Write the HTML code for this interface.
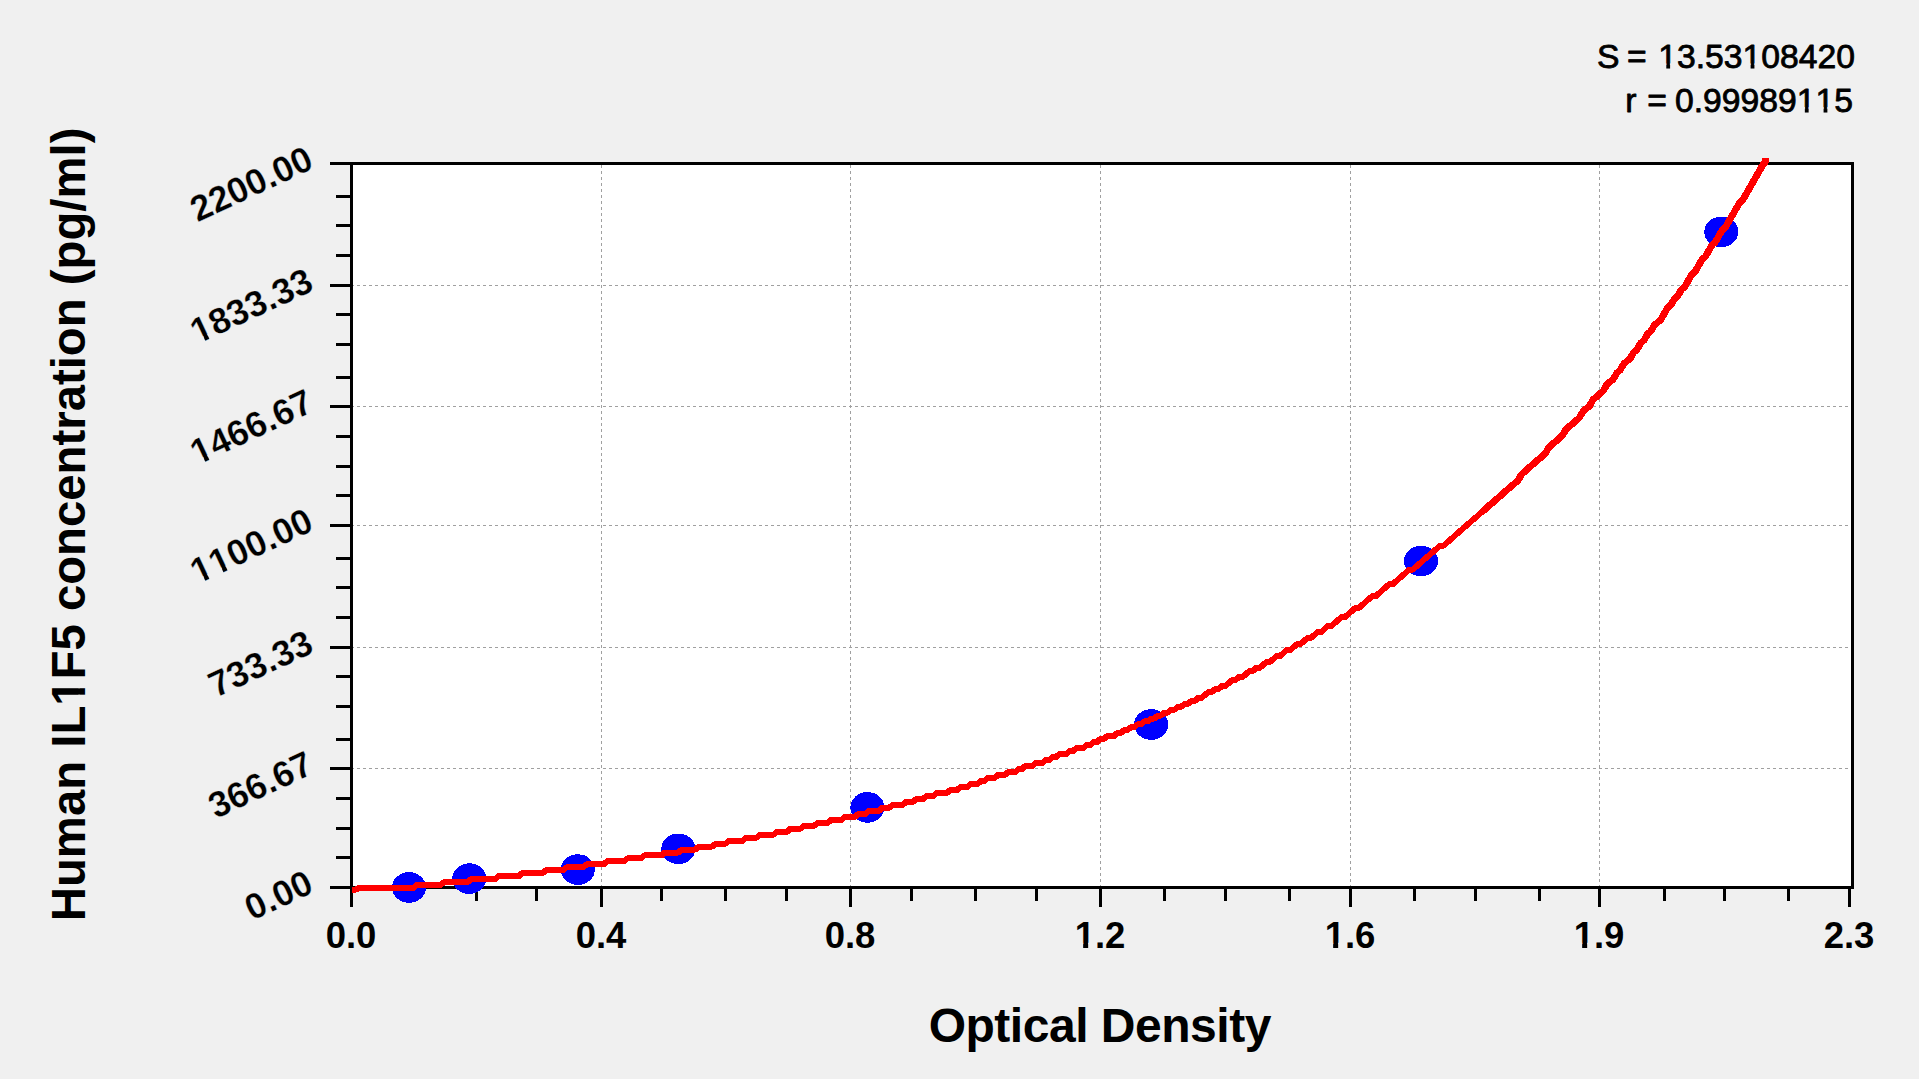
<!DOCTYPE html><html><head><meta charset="utf-8"><title>Standard curve</title>
<style>html,body{margin:0;padding:0;background:#f0f0f0;overflow:hidden}svg{display:block}text{font-family:"Liberation Sans",sans-serif;fill:#000;font-kerning:none;font-variant-ligatures:none}</style></head><body>
<svg width="1919" height="1079" viewBox="0 0 1919 1079">
<rect x="0" y="0" width="1919" height="1079" fill="#f0f0f0"/>
<rect x="353" y="165" width="1498" height="721" fill="#fff"/>
<g shape-rendering="crispEdges" stroke="#a0a0a0" stroke-width="1" stroke-dasharray="3 3" fill="none">
<line x1="351" y1="285.5" x2="1849" y2="285.5"/>
<line x1="351" y1="406.5" x2="1849" y2="406.5"/>
<line x1="351" y1="525.5" x2="1849" y2="525.5"/>
<line x1="351" y1="647.5" x2="1849" y2="647.5"/>
<line x1="351" y1="768.5" x2="1849" y2="768.5"/>
<line x1="601.5" y1="165" x2="601.5" y2="886"/>
<line x1="850.5" y1="165" x2="850.5" y2="886"/>
<line x1="1100.5" y1="165" x2="1100.5" y2="886"/>
<line x1="1350.5" y1="165" x2="1350.5" y2="886"/>
<line x1="1599.5" y1="165" x2="1599.5" y2="886"/>
</g>
<g shape-rendering="crispEdges" fill="#000">
<rect x="350" y="162" width="3" height="745"/>
<rect x="330" y="162" width="1524" height="3"/>
<rect x="350" y="886" width="1504" height="3"/>
<rect x="1851" y="162" width="3" height="727"/>
<rect x="330" y="162" width="20" height="3"/>
<rect x="336" y="195" width="14" height="3"/>
<rect x="336" y="224" width="14" height="3"/>
<rect x="336" y="254" width="14" height="3"/>
<rect x="330" y="284" width="20" height="3"/>
<rect x="336" y="313" width="14" height="3"/>
<rect x="336" y="343" width="14" height="3"/>
<rect x="336" y="376" width="14" height="3"/>
<rect x="330" y="405" width="20" height="3"/>
<rect x="336" y="435" width="14" height="3"/>
<rect x="336" y="465" width="14" height="3"/>
<rect x="336" y="494" width="14" height="3"/>
<rect x="330" y="524" width="20" height="3"/>
<rect x="336" y="557" width="14" height="3"/>
<rect x="336" y="586" width="14" height="3"/>
<rect x="336" y="616" width="14" height="3"/>
<rect x="330" y="646" width="20" height="3"/>
<rect x="336" y="675" width="14" height="3"/>
<rect x="336" y="705" width="14" height="3"/>
<rect x="336" y="738" width="14" height="3"/>
<rect x="330" y="767" width="20" height="3"/>
<rect x="336" y="797" width="14" height="3"/>
<rect x="336" y="827" width="14" height="3"/>
<rect x="336" y="856" width="14" height="3"/>
<rect x="330" y="886" width="20" height="3"/>
<rect x="350" y="886" width="3" height="21"/>
<rect x="412" y="886" width="3" height="15"/>
<rect x="475" y="886" width="3" height="15"/>
<rect x="535" y="886" width="3" height="15"/>
<rect x="600" y="886" width="3" height="21"/>
<rect x="660" y="886" width="3" height="15"/>
<rect x="724" y="886" width="3" height="15"/>
<rect x="785" y="886" width="3" height="15"/>
<rect x="849" y="886" width="3" height="21"/>
<rect x="910" y="886" width="3" height="15"/>
<rect x="974" y="886" width="3" height="15"/>
<rect x="1035" y="886" width="3" height="15"/>
<rect x="1099" y="886" width="3" height="21"/>
<rect x="1163" y="886" width="3" height="15"/>
<rect x="1224" y="886" width="3" height="15"/>
<rect x="1288" y="886" width="3" height="15"/>
<rect x="1349" y="886" width="3" height="21"/>
<rect x="1413" y="886" width="3" height="15"/>
<rect x="1474" y="886" width="3" height="15"/>
<rect x="1538" y="886" width="3" height="15"/>
<rect x="1598" y="886" width="3" height="21"/>
<rect x="1663" y="886" width="3" height="15"/>
<rect x="1723" y="886" width="3" height="15"/>
<rect x="1787" y="886" width="3" height="15"/>
<rect x="1848" y="886" width="3" height="21"/>
</g>
<g shape-rendering="crispEdges" fill="#0000ff">
<ellipse cx="409" cy="887.5" rx="17" ry="15.3"/>
<ellipse cx="469.3" cy="878.6" rx="17" ry="15.3"/>
<ellipse cx="577.8" cy="869.6" rx="17" ry="15.3"/>
<ellipse cx="678.3" cy="848.8" rx="17" ry="15.3"/>
<ellipse cx="867.4" cy="807.4" rx="17" ry="15.3"/>
<ellipse cx="1151.2" cy="724.5" rx="17" ry="15.3"/>
<ellipse cx="1421" cy="561" rx="17" ry="15.3"/>
<ellipse cx="1721.3" cy="231.9" rx="17" ry="15.3"/>
</g>
<path d="M352.0 889.7 L355.4 889.7 L358.8 888.2 L362.2 888.2 L365.6 888.2 L369.0 888.2 L372.4 888.2 L375.8 888.2 L379.2 888.2 L382.6 888.2 L386.0 888.2 L389.4 888.2 L392.8 888.2 L396.2 888.2 L399.6 888.2 L403.0 888.2 L406.4 888.2 L409.8 888.2 L413.2 888.2 L416.6 885.2 L420.0 885.2 L423.4 885.2 L426.8 885.2 L430.2 885.2 L433.6 885.2 L437.0 885.2 L440.4 885.2 L443.8 882.2 L447.2 882.2 L450.6 882.2 L454.0 882.2 L457.4 882.2 L460.8 882.2 L464.2 882.2 L467.6 882.2 L471.0 879.3 L474.4 879.3 L477.8 879.3 L481.2 879.3 L484.6 879.3 L488.0 879.3 L491.4 879.3 L494.8 879.3 L498.2 876.3 L501.6 876.3 L505.0 876.3 L508.4 876.3 L511.8 876.3 L515.2 876.3 L518.6 876.3 L522.0 873.3 L525.4 873.3 L528.8 873.3 L532.2 873.3 L535.6 873.3 L539.0 873.3 L542.4 873.3 L545.8 870.3 L549.2 870.3 L552.6 870.3 L556.0 870.3 L559.4 870.3 L562.8 870.3 L566.2 867.4 L569.6 867.4 L573.0 867.4 L576.4 867.4 L579.8 867.4 L583.2 867.4 L586.6 864.4 L590.0 864.4 L593.4 864.4 L596.8 864.4 L600.2 864.4 L603.6 864.4 L607.0 861.4 L610.4 861.4 L613.8 861.4 L617.2 861.4 L620.6 861.4 L624.0 861.4 L627.4 858.4 L630.8 858.4 L634.2 858.4 L637.6 858.4 L641.0 858.4 L644.4 855.4 L647.8 855.4 L651.2 855.4 L654.6 855.4 L658.0 855.4 L661.4 855.4 L664.8 852.5 L668.2 852.5 L671.6 852.5 L675.0 852.5 L678.4 852.5 L681.8 849.5 L685.2 849.5 L688.6 849.5 L692.0 849.5 L695.4 849.5 L698.8 846.5 L702.2 846.5 L705.6 846.5 L709.0 846.5 L712.4 846.5 L715.8 843.5 L719.2 843.5 L722.6 843.5 L726.0 843.5 L729.4 840.6 L732.8 840.6 L736.2 840.6 L739.6 840.6 L743.0 840.6 L746.4 837.6 L749.8 837.6 L753.2 837.6 L756.6 837.6 L760.0 834.6 L763.4 834.6 L766.8 834.6 L770.2 834.6 L773.6 834.6 L777.0 831.6 L780.4 831.6 L783.8 831.6 L787.2 831.6 L790.6 828.6 L794.0 828.6 L797.4 828.6 L800.8 828.6 L804.2 825.7 L807.6 825.7 L811.0 825.7 L814.4 825.7 L817.8 822.7 L821.2 822.7 L824.6 822.7 L828.0 822.7 L831.4 819.7 L834.8 819.7 L838.2 819.7 L841.6 819.7 L845.0 816.7 L848.4 816.7 L851.8 816.7 L855.2 816.7 L858.6 813.8 L862.0 813.8 L865.4 813.8 L868.8 810.8 L872.2 810.8 L875.6 810.8 L879.0 810.8 L882.4 807.8 L885.8 807.8 L889.2 807.8 L892.6 804.8 L896.0 804.8 L899.4 804.8 L902.8 804.8 L906.2 801.8 L909.6 801.8 L913.0 801.8 L916.4 798.9 L919.8 798.9 L923.2 798.9 L926.6 795.9 L930.0 795.9 L933.4 795.9 L936.8 792.9 L940.2 792.9 L943.6 792.9 L947.0 792.9 L950.4 789.9 L953.8 789.9 L957.2 789.9 L960.6 786.9 L964.0 786.9 L967.4 786.9 L970.8 784.0 L974.2 784.0 L977.6 784.0 L981.0 781.0 L984.4 781.0 L987.8 778.0 L991.2 778.0 L994.6 778.0 L998.0 775.0 L1001.4 775.0 L1004.8 775.0 L1008.2 772.1 L1011.6 772.1 L1015.0 772.1 L1018.4 769.1 L1021.8 769.1 L1025.2 766.1 L1028.6 766.1 L1032.0 766.1 L1035.4 763.1 L1038.8 763.1 L1042.2 763.1 L1045.6 760.1 L1049.0 760.1 L1052.4 757.2 L1055.8 757.2 L1059.2 754.2 L1062.6 754.2 L1066.0 754.2 L1069.4 751.2 L1072.8 751.2 L1076.2 748.2 L1079.6 748.2 L1083.0 748.2 L1086.4 745.3 L1089.8 745.3 L1093.2 742.3 L1096.6 742.3 L1100.0 739.3 L1103.4 739.3 L1106.8 736.3 L1110.2 736.3 L1113.6 736.3 L1117.0 733.3 L1120.4 733.3 L1123.8 730.4 L1127.2 730.4 L1130.6 727.4 L1134.0 727.4 L1137.4 724.4 L1140.8 724.4 L1144.2 721.4 L1147.6 721.4 L1151.0 718.5 L1154.4 718.5 L1157.8 715.5 L1161.2 715.5 L1164.6 712.5 L1168.0 712.5 L1171.4 709.5 L1174.8 709.5 L1178.2 706.5 L1181.6 706.5 L1185.0 703.6 L1188.4 703.6 L1191.8 700.6 L1195.2 700.6 L1198.6 697.6 L1202.0 697.6 L1205.4 694.6 L1208.8 691.7 L1212.2 691.7 L1215.6 688.7 L1219.0 688.7 L1222.4 685.7 L1225.8 685.7 L1229.2 682.7 L1232.6 679.7 L1236.0 679.7 L1239.4 676.8 L1242.8 676.8 L1246.2 673.8 L1249.6 670.8 L1253.0 670.8 L1256.4 667.8 L1259.8 667.8 L1263.2 664.9 L1266.6 661.9 L1270.0 661.9 L1273.4 658.9 L1276.8 655.9 L1280.2 655.9 L1283.6 652.9 L1287.0 650.0 L1290.4 650.0 L1293.8 647.0 L1297.2 644.0 L1300.6 644.0 L1304.0 641.0 L1307.4 638.0 L1310.8 638.0 L1314.2 635.1 L1317.6 632.1 L1321.0 632.1 L1324.4 629.1 L1327.8 626.1 L1331.2 626.1 L1334.6 623.2 L1338.0 620.2 L1341.4 617.2 L1344.8 617.2 L1348.2 614.2 L1351.6 611.2 L1355.0 608.3 L1358.4 608.3 L1361.8 605.3 L1365.2 602.3 L1368.6 599.3 L1372.0 596.4 L1375.4 596.4 L1378.8 593.4 L1382.2 590.4 L1385.6 587.4 L1389.0 584.4 L1392.4 584.4 L1395.8 581.5 L1399.2 578.5 L1402.6 575.5 L1406.0 572.5 L1409.4 569.6 L1412.8 569.6 L1416.2 566.6 L1419.6 563.6 L1423.0 560.6 L1426.4 557.6 L1429.8 554.7 L1433.2 551.7 L1436.6 548.7 L1440.0 545.7 L1443.4 545.7 L1446.8 542.8 L1450.2 539.8 L1453.6 536.8 L1457.0 533.8 L1460.4 530.8 L1463.8 527.9 L1467.2 524.9 L1470.6 521.9 L1474.0 518.9 L1477.4 516.0 L1480.8 513.0 L1484.2 510.0 L1487.6 507.0 L1491.0 504.0 L1494.4 501.1 L1497.8 498.1 L1501.2 495.1 L1504.6 492.1 L1508.0 489.1 L1511.4 486.2 L1514.8 483.2 L1518.2 480.2 L1521.6 474.3 L1525.0 471.3 L1528.4 468.3 L1531.8 465.3 L1535.2 462.3 L1538.6 459.4 L1542.0 456.4 L1545.4 453.4 L1548.8 447.5 L1552.2 444.5 L1555.6 441.5 L1559.0 438.5 L1562.4 435.5 L1565.8 429.6 L1569.2 426.6 L1572.6 423.6 L1576.0 420.7 L1579.4 417.7 L1582.8 411.7 L1586.2 408.7 L1589.6 405.8 L1593.0 399.8 L1596.4 396.8 L1599.8 393.9 L1603.2 390.9 L1606.6 384.9 L1610.0 381.9 L1613.4 379.0 L1616.8 373.0 L1620.2 370.0 L1623.6 364.1 L1627.0 361.1 L1630.4 358.1 L1633.8 352.2 L1637.2 349.2 L1640.6 343.2 L1644.0 340.2 L1647.4 334.3 L1650.8 331.3 L1654.2 325.4 L1657.6 322.4 L1661.0 319.4 L1664.4 313.4 L1667.8 307.5 L1671.2 304.5 L1674.6 298.6 L1678.0 295.6 L1681.4 289.6 L1684.8 286.6 L1688.2 280.7 L1691.6 274.7 L1695.0 271.8 L1698.4 265.8 L1701.8 259.8 L1705.2 256.9 L1708.6 250.9 L1712.0 245.0 L1715.4 242.0 L1718.8 236.0 L1722.2 230.1 L1725.6 227.1 L1729.0 221.1 L1732.4 215.2 L1735.8 209.2 L1739.2 203.3 L1742.6 200.3 L1746.0 194.3 L1749.4 188.4 L1752.8 182.4 L1756.2 176.5 L1759.6 170.5 L1763.0 164.5 L1764.4 163.5 L1765.6 161.0 L1765.6 158.0" fill="none" stroke="#ff0000" stroke-width="6" stroke-linejoin="round" stroke-linecap="butt" shape-rendering="crispEdges"/>
<path d="M1480.8 513.0 L1484.2 510.0 L1487.6 507.0 L1491.0 504.0 L1494.4 501.1 L1497.8 498.1 L1501.2 495.1 L1504.6 492.1 L1508.0 489.1 L1511.4 486.2 L1514.8 483.2 L1518.2 480.2 L1521.6 474.3 L1525.0 471.3 L1528.4 468.3 L1531.8 465.3 L1535.2 462.3 L1538.6 459.4 L1542.0 456.4 L1545.4 453.4 L1548.8 447.5 L1552.2 444.5 L1555.6 441.5 L1559.0 438.5 L1562.4 435.5 L1565.8 429.6 L1569.2 426.6 L1572.6 423.6 L1576.0 420.7 L1579.4 417.7 L1582.8 411.7 L1586.2 408.7 L1589.6 405.8 L1593.0 399.8 L1596.4 396.8 L1599.8 393.9 L1603.2 390.9 L1606.6 384.9 L1610.0 381.9 L1613.4 379.0 L1616.8 373.0 L1620.2 370.0 L1623.6 364.1 L1627.0 361.1 L1630.4 358.1 L1633.8 352.2 L1637.2 349.2 L1640.6 343.2 L1644.0 340.2 L1647.4 334.3 L1650.8 331.3 L1654.2 325.4 L1657.6 322.4 L1661.0 319.4 L1664.4 313.4 L1667.8 307.5 L1671.2 304.5 L1674.6 298.6 L1678.0 295.6 L1681.4 289.6 L1684.8 286.6 L1688.2 280.7 L1691.6 274.7 L1695.0 271.8 L1698.4 265.8 L1701.8 259.8 L1705.2 256.9 L1708.6 250.9 L1712.0 245.0 L1715.4 242.0 L1718.8 236.0 L1722.2 230.1 L1725.6 227.1 L1729.0 221.1 L1732.4 215.2 L1735.8 209.2 L1739.2 203.3 L1742.6 200.3 L1746.0 194.3 L1749.4 188.4 L1752.8 182.4 L1756.2 176.5 L1759.6 170.5 L1763.0 164.5 L1764.4 163.5 L1765.6 161.0 L1765.6 158.0" fill="none" stroke="#ff0000" stroke-width="6.9" stroke-linejoin="round" stroke-linecap="butt" shape-rendering="crispEdges"/>
<g transform="translate(1855,68) scale(1.04,1)">
<text x="0" y="0" font-size="32.4" font-weight="normal" text-anchor="end" stroke='#000' stroke-width='0.8' stroke-linejoin='round'>13.53108420</text>
<rect x="-188.73" y="-4.62" width="7.28" height="6.62" fill="#f0f0f0"/><rect x="-177.78" y="-4.62" width="7.03" height="6.62" fill="#f0f0f0"/><rect x="-107.65" y="-4.62" width="7.28" height="6.62" fill="#f0f0f0"/><rect x="-96.71" y="-4.62" width="7.03" height="6.62" fill="#f0f0f0"/>
</g>
<g transform="translate(1636.9,68) scale(1.04,1)">
<text x="0" y="0" font-size="32.4" font-weight="normal" text-anchor="middle" stroke='#000' stroke-width='0.8' stroke-linejoin='round'>=</text>

</g>
<g transform="translate(1608.15,68) scale(1.04,1)">
<text x="0" y="0" font-size="32.4" font-weight="normal" text-anchor="middle" stroke='#000' stroke-width='0.8' stroke-linejoin='round'>S</text>

</g>
<g transform="translate(1853,111.6) scale(1.04,1)">
<text x="0" y="0" font-size="32.4" font-weight="normal" text-anchor="end" stroke='#000' stroke-width='0.8' stroke-linejoin='round'>0.99989115</text>
<rect x="-53.59" y="-4.62" width="7.28" height="6.62" fill="#f0f0f0"/><rect x="-42.65" y="-4.62" width="7.03" height="6.62" fill="#f0f0f0"/><rect x="-35.57" y="-4.62" width="7.28" height="6.62" fill="#f0f0f0"/><rect x="-24.63" y="-4.62" width="7.03" height="6.62" fill="#f0f0f0"/>
</g>
<g transform="translate(1657.2,111.6) scale(1.04,1)">
<text x="0" y="0" font-size="32.4" font-weight="normal" text-anchor="middle" stroke='#000' stroke-width='0.8' stroke-linejoin='round'>=</text>

</g>
<g transform="translate(1630.85,111.6) scale(1.04,1)">
<text x="0" y="0" font-size="32.4" font-weight="normal" text-anchor="middle" stroke='#000' stroke-width='0.8' stroke-linejoin='round'>r</text>

</g>
<g transform="translate(351,948.3)">
<text x="0" y="0" font-size="36.5" font-weight="bold" text-anchor="middle" >0.0</text>

</g>
<g transform="translate(601,948.3)">
<text x="0" y="0" font-size="36.5" font-weight="bold" text-anchor="middle" >0.4</text>

</g>
<g transform="translate(850,948.3)">
<text x="0" y="0" font-size="36.5" font-weight="bold" text-anchor="middle" >0.8</text>

</g>
<g transform="translate(1100,948.3)">
<text x="0" y="0" font-size="36.5" font-weight="bold" text-anchor="middle" >1.2</text>
<rect x="-24.67" y="-5.52" width="7.82" height="7.12" fill="#f0f0f0"/><rect x="-11.84" y="-5.52" width="7.36" height="7.12" fill="#f0f0f0"/>
</g>
<g transform="translate(1350,948.3)">
<text x="0" y="0" font-size="36.5" font-weight="bold" text-anchor="middle" >1.6</text>
<rect x="-24.67" y="-5.52" width="7.82" height="7.12" fill="#f0f0f0"/><rect x="-11.84" y="-5.52" width="7.36" height="7.12" fill="#f0f0f0"/>
</g>
<g transform="translate(1599,948.3)">
<text x="0" y="0" font-size="36.5" font-weight="bold" text-anchor="middle" >1.9</text>
<rect x="-24.67" y="-5.52" width="7.82" height="7.12" fill="#f0f0f0"/><rect x="-11.84" y="-5.52" width="7.36" height="7.12" fill="#f0f0f0"/>
</g>
<g transform="translate(1849,948.3)">
<text x="0" y="0" font-size="36.5" font-weight="bold" text-anchor="middle" >2.3</text>

</g>
<g transform="translate(315.5,167.5) rotate(-25)">
<text x="0" y="0" font-size="36" font-weight="bold" text-anchor="end" stroke='#f0f0f0' stroke-width='0.3'>2200.00</text>

</g>
<g transform="translate(315.5,289.5) rotate(-25)">
<text x="0" y="0" font-size="36" font-weight="bold" text-anchor="end" stroke='#f0f0f0' stroke-width='0.3'>1833.33</text>
<rect x="-129.26" y="-5.27" width="7.73" height="6.67" fill="#f0f0f0"/><rect x="-116.99" y="-5.27" width="7.28" height="6.67" fill="#f0f0f0"/>
</g>
<g transform="translate(315.5,410.5) rotate(-25)">
<text x="0" y="0" font-size="36" font-weight="bold" text-anchor="end" stroke='#f0f0f0' stroke-width='0.3'>1466.67</text>
<rect x="-129.26" y="-5.27" width="7.73" height="6.67" fill="#f0f0f0"/><rect x="-116.99" y="-5.27" width="7.28" height="6.67" fill="#f0f0f0"/>
</g>
<g transform="translate(315.5,529.5) rotate(-25)">
<text x="0" y="0" font-size="36" font-weight="bold" text-anchor="end" stroke='#f0f0f0' stroke-width='0.3'>1100.00</text>
<rect x="-129.26" y="-5.27" width="7.73" height="6.67" fill="#f0f0f0"/><rect x="-116.99" y="-5.27" width="7.28" height="6.67" fill="#f0f0f0"/><rect x="-109.24" y="-5.27" width="7.73" height="6.67" fill="#f0f0f0"/><rect x="-96.97" y="-5.27" width="7.28" height="6.67" fill="#f0f0f0"/>
</g>
<g transform="translate(315.5,651.5) rotate(-25)">
<text x="0" y="0" font-size="36" font-weight="bold" text-anchor="end" stroke='#f0f0f0' stroke-width='0.3'>733.33</text>

</g>
<g transform="translate(315.5,772.5) rotate(-25)">
<text x="0" y="0" font-size="36" font-weight="bold" text-anchor="end" stroke='#f0f0f0' stroke-width='0.3'>366.67</text>

</g>
<g transform="translate(315.5,891.5) rotate(-25)">
<text x="0" y="0" font-size="36" font-weight="bold" text-anchor="end" stroke='#f0f0f0' stroke-width='0.3'>0.00</text>

</g>
<text x="1100" y="1042" font-size="48" font-weight="bold" text-anchor="middle" textLength="342.7" lengthAdjust="spacing">Optical Density</text>
<g transform="translate(85,524.4) rotate(-90)">
<text x="0" y="0" font-size="47.3" font-weight="bold" text-anchor="middle" >Human IL1F5 concentration (pg/ml)</text>
<rect x="-179.96" y="-6.63" width="9.66" height="8.23" fill="#f0f0f0"/><rect x="-163.81" y="-6.63" width="9.06" height="8.23" fill="#f0f0f0"/>
</g>
</svg></body></html>
